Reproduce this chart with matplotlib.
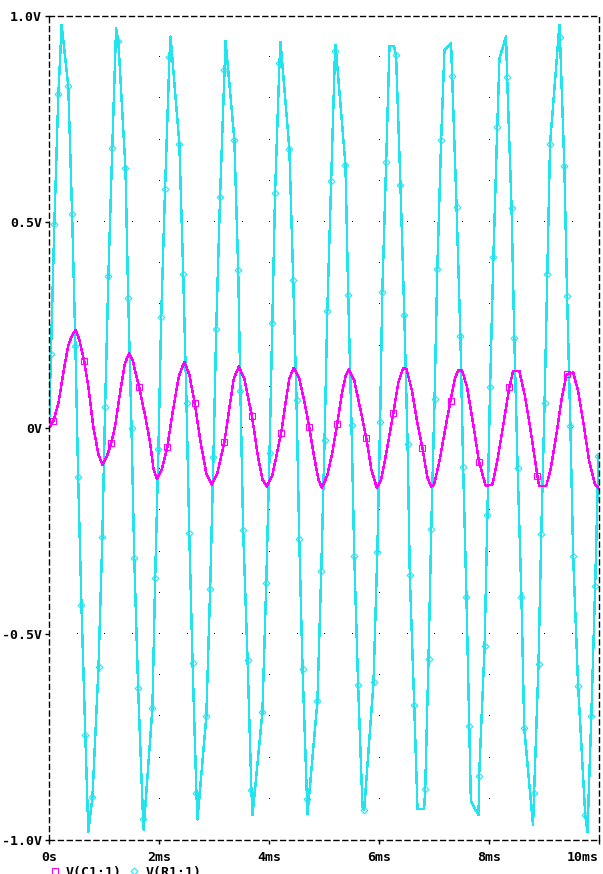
import numpy as np
import matplotlib
matplotlib.use("Agg")
import matplotlib.pyplot as plt
from matplotlib.lines import Line2D

plt.rcParams['lines.scale_dashes'] = False

# V(R1:1) vertices: time (ms), volts, marker flag
r1_t = [0.00, 0.036, 0.097, 0.17, 0.23, 0.35, 0.42, 0.48, 0.53, 0.59, 0.66, 0.715,
        0.79, 0.90, 0.97, 1.02, 1.08, 1.15, 1.22, 1.26, 1.39, 1.44, 1.50, 1.55,
        1.62, 1.71, 1.72, 1.88, 1.93, 1.99, 2.04, 2.11, 2.19, 2.21, 2.37, 2.44,
        2.50, 2.55, 2.61, 2.68, 2.70, 2.86, 2.93, 2.99, 3.04, 3.11, 3.19, 3.21,
        3.37, 3.44, 3.48, 3.53, 3.61, 3.68, 3.70, 3.88, 3.95, 4.01, 4.06, 4.11,
        4.19, 4.21, 4.37, 4.44, 4.50, 4.55, 4.61, 4.69, 4.70, 4.88, 4.95, 5.01,
        5.06, 5.13, 5.20, 5.21, 5.39, 5.44, 5.50, 5.55, 5.62, 5.70, 5.73, 5.90,
        5.97, 6.02, 6.06, 6.13, 6.19, 6.27, 6.31, 6.39, 6.46, 6.52, 6.56, 6.64,
        6.70, 6.82, 6.84, 6.90, 6.95, 7.01, 7.06, 7.13, 7.19, 7.31, 7.33, 7.41,
        7.48, 7.53, 7.59, 7.64, 7.67, 7.81, 7.82, 7.92, 7.97, 8.02, 8.08, 8.15,
        8.19, 8.31, 8.33, 8.41, 8.46, 8.52, 8.59, 8.64, 8.80, 8.82, 8.90, 8.95,
        9.01, 9.06, 9.11, 9.28, 9.29, 9.37, 9.42, 9.48, 9.53, 9.62, 9.75, 9.79,
        9.86, 9.93, 9.99]
r1_v = [0.00, 0.18, 0.495, 0.81, 0.978, 0.83, 0.52, 0.20, -0.12, -0.43, -0.745, -0.98,
        -0.895, -0.58, -0.265, 0.05, 0.37, 0.68, 0.97, 0.94, 0.63, 0.315, 0.0, -0.315,
        -0.63, -0.95, -0.975, -0.68, -0.365, -0.05, 0.27, 0.58, 0.90, 0.95, 0.69, 0.375,
        0.06, -0.255, -0.57, -0.885, -0.95, -0.70, -0.39, -0.07, 0.24, 0.56, 0.87, 0.94,
        0.70, 0.383, 0.09, -0.248, -0.563, -0.879, -0.94, -0.69, -0.376, -0.06, 0.255, 0.57,
        0.886, 0.937, 0.677, 0.36, 0.068, -0.27, -0.585, -0.90, -0.937, -0.663, -0.347, -0.03,
        0.284, 0.60, 0.915, 0.93, 0.638, 0.323, 0.007, -0.31, -0.624, -0.92, -0.927, -0.617,
        -0.30, 0.015, 0.33, 0.645, 0.927, 0.927, 0.905, 0.59, 0.274, -0.04, -0.357, -0.672,
        -0.925, -0.925, -0.876, -0.56, -0.245, 0.07, 0.386, 0.70, 0.917, 0.934, 0.854, 0.537,
        0.223, -0.094, -0.41, -0.724, -0.905, -0.94, -0.845, -0.53, -0.21, 0.10, 0.416, 0.73,
        0.897, 0.95, 0.851, 0.535, 0.219, -0.096, -0.41, -0.727, -0.964, -0.886, -0.572, -0.257,
        0.06, 0.375, 0.69, 0.978, 0.95, 0.635, 0.32, 0.004, -0.31, -0.626, -0.94, -0.98,
        -0.70, -0.384, -0.069]
r1_mark = [0, 1, 1, 1, 0, 1, 1, 1, 1, 1, 1, 0,
           1, 1, 1, 1, 1, 1, 0, 1, 1, 1, 1, 1,
           1, 1, 0, 1, 1, 1, 1, 1, 1, 0, 1, 1,
           1, 1, 1, 1, 0, 1, 1, 1, 1, 1, 1, 0,
           1, 1, 1, 1, 1, 1, 0, 1, 1, 1, 1, 1,
           1, 0, 1, 1, 1, 1, 1, 1, 0, 1, 1, 1,
           1, 1, 1, 0, 1, 1, 1, 1, 1, 0, 1, 1,
           1, 1, 1, 1, 0, 0, 1, 1, 1, 1, 1, 1,
           0, 0, 1, 1, 1, 1, 1, 1, 0, 0, 1, 1,
           1, 1, 1, 1, 0, 0, 1, 1, 1, 1, 1, 1,
           0, 0, 1, 1, 1, 1, 1, 1, 0, 1, 1, 1,
           1, 1, 1, 0, 1, 1, 1, 1, 1, 1, 1, 0,
           1, 1, 1]

# V(C1:1) vertices
c1_t = [0.00, 0.08, 0.17, 0.29, 0.35, 0.41, 0.485, 0.55, 0.64, 0.715, 0.805, 0.90,
        0.975, 1.05, 1.13, 1.20, 1.29, 1.38, 1.455, 1.52, 1.59, 1.64, 1.75, 1.84,
        1.90, 1.96, 2.05, 2.15, 2.25, 2.36, 2.46, 2.55, 2.65, 2.75, 2.86, 2.96,
        3.06, 3.19, 3.27, 3.36, 3.45, 3.55, 3.69, 3.80, 3.88, 3.96, 4.06, 4.22,
        4.30, 4.37, 4.45, 4.55, 4.65, 4.73, 4.82, 4.90, 4.96, 5.06, 5.15, 5.24,
        5.32, 5.39, 5.45, 5.55, 5.67, 5.77, 5.86, 5.96, 6.04, 6.14, 6.26, 6.35,
        6.44, 6.50, 6.60, 6.70, 6.79, 6.88, 6.945, 7.00, 7.10, 7.20, 7.30, 7.38,
        7.44, 7.51, 7.60, 7.70, 7.82, 7.94, 8.06, 8.15, 8.25, 8.37, 8.44, 8.55,
        8.65, 8.75, 8.88, 8.91, 9.04, 9.12, 9.22, 9.32, 9.41, 9.53, 9.62, 9.72,
        9.82, 9.93, 10.00]
c1_v = [0.000, 0.017, 0.060, 0.157, 0.200, 0.222, 0.238, 0.215, 0.162, 0.100, 0.003, -0.065,
        -0.090, -0.070, -0.037, 0.003, 0.084, 0.157, 0.181, 0.165, 0.125, 0.099, 0.028, -0.037,
        -0.100, -0.124, -0.100, -0.047, 0.040, 0.125, 0.161, 0.130, 0.060, -0.030, -0.110, -0.138,
        -0.110, -0.033, 0.040, 0.120, 0.149, 0.120, 0.029, -0.070, -0.125, -0.142, -0.115, -0.013,
        0.060, 0.120, 0.146, 0.120, 0.060, 0.003, -0.070, -0.125, -0.145, -0.115, -0.060, 0.009,
        0.080, 0.125, 0.143, 0.115, 0.040, -0.025, -0.100, -0.145, -0.125, -0.055, 0.036, 0.110,
        0.145, 0.143, 0.090, 0.010, -0.049, -0.120, -0.142, -0.138, -0.080, -0.005, 0.066, 0.120,
        0.140, 0.140, 0.100, 0.020, -0.083, -0.140, -0.138, -0.080, 0.000, 0.099, 0.139, 0.139,
        0.080, 0.000, -0.116, -0.141, -0.141, -0.100, -0.020, 0.070, 0.130, 0.135, 0.090, 0.010,
        -0.080, -0.138, -0.148]
c1_mark_t = [0.08, 0.64, 1.13, 1.64, 2.15, 2.65, 3.19, 3.69, 4.22, 4.73, 5.24, 5.77,
             6.26, 6.79, 7.30, 7.82, 8.37, 8.88, 9.41]

x_ticks = [0, 2, 4, 6, 8, 10]
x_labels = ['0s', '2ms', '4ms', '6ms', '8ms', '10ms']
y_ticks = [-1.0, -0.5, 0.0, 0.5, 1.0]
y_labels = ['-1.0V', '-0.5V', '0V', '0.5V', '1.0V']

CYAN = '#22E4EE'
MAGENTA = '#FF00FF'
FONT = dict(family='DejaVu Sans Mono', weight='bold', size=9.5)

W, H = 603, 874
fig = plt.figure(figsize=(W / 100, H / 100), dpi=100)
ax = fig.add_axes([49 / W, 34 / H, 550 / W, 824 / H])
ax.set_xlim(0, 10)
ax.set_ylim(-1, 1)

# dotted grid, drawn as single pixels
for gx in x_ticks[1:-1]:
    gy = np.arange(-9, 10) / 10
    ax.plot(np.full(gy.shape, gx), gy, ls='none', marker=',', color='black')
for gy in y_ticks[1:-1]:
    gx = np.arange(1, 20) / 2
    ax.plot(gx, np.full(gx.shape, gy), ls='none', marker=',', color='black')

r1_idx = [i for i, m in enumerate(r1_mark) if m]
ax.plot(r1_t, r1_v, color=CYAN, lw=1.0, antialiased=False,
        marker='D', ms=3.4, mfc='none', mec=CYAN, mew=0.8, markevery=r1_idx)

c1_idx = [c1_t.index(t) for t in c1_mark_t]
ax.plot(c1_t, c1_v, color=MAGENTA, lw=1.0, antialiased=False,
        marker='s', ms=3.8, mfc='none', mec=MAGENTA, mew=0.8, markevery=c1_idx)

for spine in ax.spines.values():
    spine.set_linestyle((0, (3.6, 2.8)))
    spine.set_linewidth(1.0)
    spine.set_color('black')

ax.set_xticks(x_ticks)
ax.set_xticklabels(x_labels, fontdict=FONT)
ax.set_yticks(y_ticks)
ax.set_yticklabels(y_labels, fontdict=FONT)
ax.tick_params(direction='out', length=3, width=1.0, color='black')
ax.tick_params(axis='x', pad=5)
ax.tick_params(axis='y', pad=2)
ax.get_xticklabels()[-1].set_horizontalalignment('right')
ax.get_xticklabels()[-1].set_x(10)

# legend under the plot
ly = (H - 871) / H
fig.add_artist(Line2D([55 / W], [ly], transform=fig.transFigure, marker='s', ms=3.8,
                      mfc='none', mec=MAGENTA, mew=0.8, ls='none'))
fig.text(66 / W, (H - 866) / H, 'V(C1:1)', va='top', ha='left', **FONT)
fig.add_artist(Line2D([134 / W], [ly], transform=fig.transFigure, marker='D', ms=3.4,
                      mfc='none', mec=CYAN, mew=0.8, ls='none'))
fig.text(146 / W, (H - 866) / H, 'V(R1:1)', va='top', ha='left', **FONT)

fig.savefig('out.png', dpi=100, facecolor='white')
